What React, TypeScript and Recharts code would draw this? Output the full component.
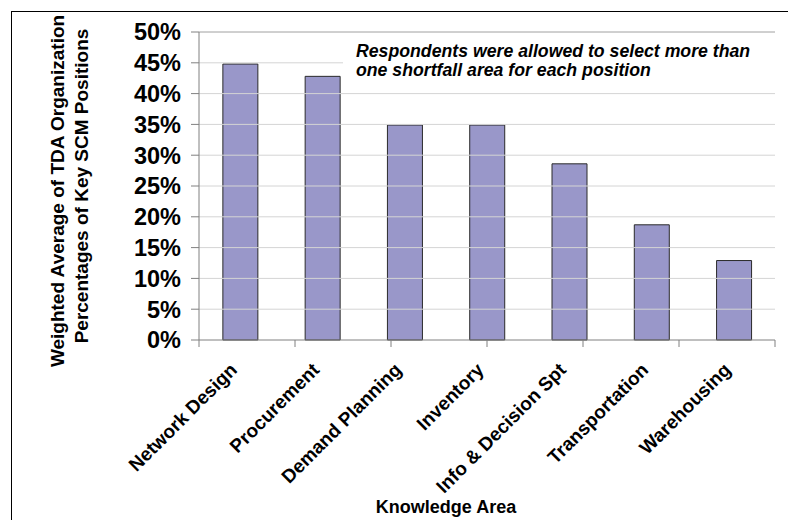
import React from "react";
import { Bar, BarChart, ReferenceLine, XAxis, YAxis } from "recharts";

const areas = [
  "Network Design",
  "Procurement",
  "Demand Planning",
  "Inventory",
  "Info & Decision Spt",
  "Transportation",
  "Warehousing",
];
const shortfall = [44.8, 42.8, 34.9, 34.9, 28.6, 18.7, 12.9];
const yTicks = [0, 5, 10, 15, 20, 25, 30, 35, 40, 45, 50];
const boundaryTicks = [0, 1, 2, 3, 4, 5, 6, 7];

const FONT = "'Liberation Sans', Arial, sans-serif";

const AreaTick = ({ x, y, payload }: any) => {
  const ax = x - 2;
  const ay = y + 19;
  return (
    <text
      x={ax}
      y={ay}
      transform={`rotate(-45, ${ax}, ${ay})`}
      textAnchor="end"
      fontFamily={FONT}
      fontWeight="bold"
      fontSize={19}
      fill="#000"
    >
      {payload.value}
    </text>
  );
};

const App = () => {
  const data = areas.map((name, i) => ({ name, value: shortfall[i] }));

  return (
    <div style={{ position: "absolute", left: 0, top: 0, width: 788, height: 520, background: "#fff" }}>
      {/* page frame */}
      <div style={{ position: "absolute", left: 11, top: 11, width: 777, height: 509, borderLeft: "1px solid #000", borderTop: "1px solid #000" }} />
      <BarChart
        width={788}
        height={520}
        data={data}
        margin={{ top: 32, right: 13, bottom: 0, left: 0 }}
        barCategoryGap="29%"
        style={{ position: "absolute", left: 0, top: 0 }}
      >
        <XAxis
          xAxisId="a"
          type="number"
          domain={[0, 7]}
          ticks={boundaryTicks}
          interval={0}
          allowDataOverflow
          height={10}
          tickSize={7}
          tick={() => <g />}
          stroke="#808080"
        />
        <XAxis
          xAxisId="b"
          dataKey="name"
          height={170}
          axisLine={false}
          tickLine={false}
          tickSize={0}
          interval={0}
          tick={<AreaTick />}
        />
        <YAxis
          domain={[0, 50]}
          ticks={yTicks}
          interval={0}
          width={199}
          tickSize={8}
          tickMargin={10}
          tickFormatter={(v: number) => `${v}%`}
          stroke="#808080"
          tick={{ fill: "#000", fontFamily: FONT, fontWeight: "bold", fontSize: 23.5 }}
        />
        {yTicks.slice(1, -1).map((v) => (
          <ReferenceLine key={v} xAxisId="a" y={v} stroke="#d4d4d4" />
        ))}
        <ReferenceLine xAxisId="a" x={7} stroke="#a0a0a0" />
        <ReferenceLine xAxisId="a" y={50} stroke="#a0a0a0" />
        <Bar xAxisId="b" dataKey="value" fill="#9997c9" stroke="#2a2a2a" strokeWidth={1} isAnimationActive={false} />
      </BarChart>
      <div
        style={{
          position: "absolute",
          left: 343,
          top: 36,
          width: 437,
          height: 52,
          background: "#fff",
          fontFamily: FONT,
          fontWeight: "bold",
          fontStyle: "italic",
          fontSize: 17.7,
          lineHeight: "19px",
          color: "#000",
          paddingLeft: 13,
          paddingTop: 6,
          boxSizing: "border-box",
          whiteSpace: "nowrap",
        }}
      >
        Respondents were allowed to select more than
        <br />
        one shortfall area for each position
      </div>
      <svg width={788} height={520} style={{ position: "absolute", left: 0, top: 0, pointerEvents: "none" }}>
        <text
          transform="translate(64, 191) rotate(-90)"
          textAnchor="middle"
          fontFamily={FONT}
          fontWeight="bold"
          fontSize={19}
          fill="#000"
        >
          Weighted Average of TDA Organization
        </text>
        <text
          transform="translate(88, 186) rotate(-90)"
          textAnchor="middle"
          fontFamily={FONT}
          fontWeight="bold"
          fontSize={19}
          fill="#000"
        >
          Percentages of Key SCM Positions
        </text>
        <text x={446} y={513} textAnchor="middle" fontFamily={FONT} fontWeight="bold" fontSize={18} fill="#000">
          Knowledge Area
        </text>
      </svg>
    </div>
  );
};

export default App;
